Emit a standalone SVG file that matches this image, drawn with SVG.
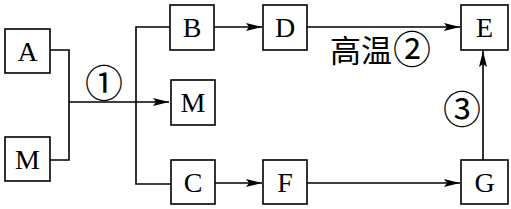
<svg xmlns="http://www.w3.org/2000/svg" width="511" height="209" viewBox="0 0 511 209">
<style>
.box{fill:#fff;stroke:#000;stroke-width:1.6}
.t{font-family:"Liberation Serif",serif;font-size:28px;text-anchor:middle;fill:#000}
.n{font-family:"Noto Sans CJK SC",sans-serif;font-size:38px;text-anchor:middle;fill:#000}
.c{font-family:"Noto Sans CJK SC",serif;font-size:31px;fill:#000}
.ln{fill:none;stroke:#000;stroke-width:1.6}
</style>
<defs>
<marker id="ah" markerWidth="16" markerHeight="8" refX="16" refY="4" orient="auto" markerUnits="userSpaceOnUse">
<path d="M0,0 L16,4 L0,8 L3,4 Z" fill="#000"/>
</marker>
</defs>
<g id="connectors">
<polyline class="ln" points="50,50 69,50 69,160 50,160"/>
<line class="ln" x1="69" y1="102" x2="169" y2="102" marker-end="url(#ah)"/>
<polyline class="ln" points="170,27 136,27 136,184 171,184"/>
<line class="ln" x1="214" y1="27" x2="262" y2="27" marker-end="url(#ah)"/>
<line class="ln" x1="215" y1="183" x2="262" y2="183" marker-end="url(#ah)"/>
<line class="ln" x1="307" y1="27" x2="460" y2="27" marker-end="url(#ah)"/>
<line class="ln" x1="307" y1="183" x2="460" y2="183" marker-end="url(#ah)"/>
<line class="ln" x1="483" y1="160" x2="483" y2="51" marker-end="url(#ah)"/>
</g>
<g id="A"><rect class="box" x="5" y="29" width="45" height="44"/><text class="t" x="27.5" y="61">A</text></g>
<g id="M1"><rect class="box" x="5" y="137" width="45" height="44"/><text class="t" x="27.5" y="169">M</text></g>
<g id="B"><rect class="box" x="170" y="5" width="44" height="45"/><text class="t" x="192" y="37">B</text></g>
<g id="M2"><rect class="box" x="171" y="80" width="44" height="45"/><text class="t" x="193" y="112">M</text></g>
<g id="C"><rect class="box" x="171" y="160" width="44" height="44"/><text class="t" x="193" y="192">C</text></g>
<g id="D"><rect class="box" x="263" y="5" width="44" height="45"/><text class="t" x="285" y="37">D</text></g>
<g id="F"><rect class="box" x="263" y="160" width="44" height="44"/><text class="t" x="285" y="192">F</text></g>
<g id="E"><rect class="box" x="461" y="5" width="47" height="45"/><text class="t" x="484.5" y="37">E</text></g>
<g id="G"><rect class="box" x="461" y="160" width="47" height="44"/><text class="t" x="484.5" y="192">G</text></g>
<g id="labels">
<text class="n" x="104" y="97">①</text>
<text class="c" x="330" y="62">高温</text>
<text class="n" x="412" y="63">②</text>
<text class="n" x="462" y="123">③</text>
</g>
</svg>
